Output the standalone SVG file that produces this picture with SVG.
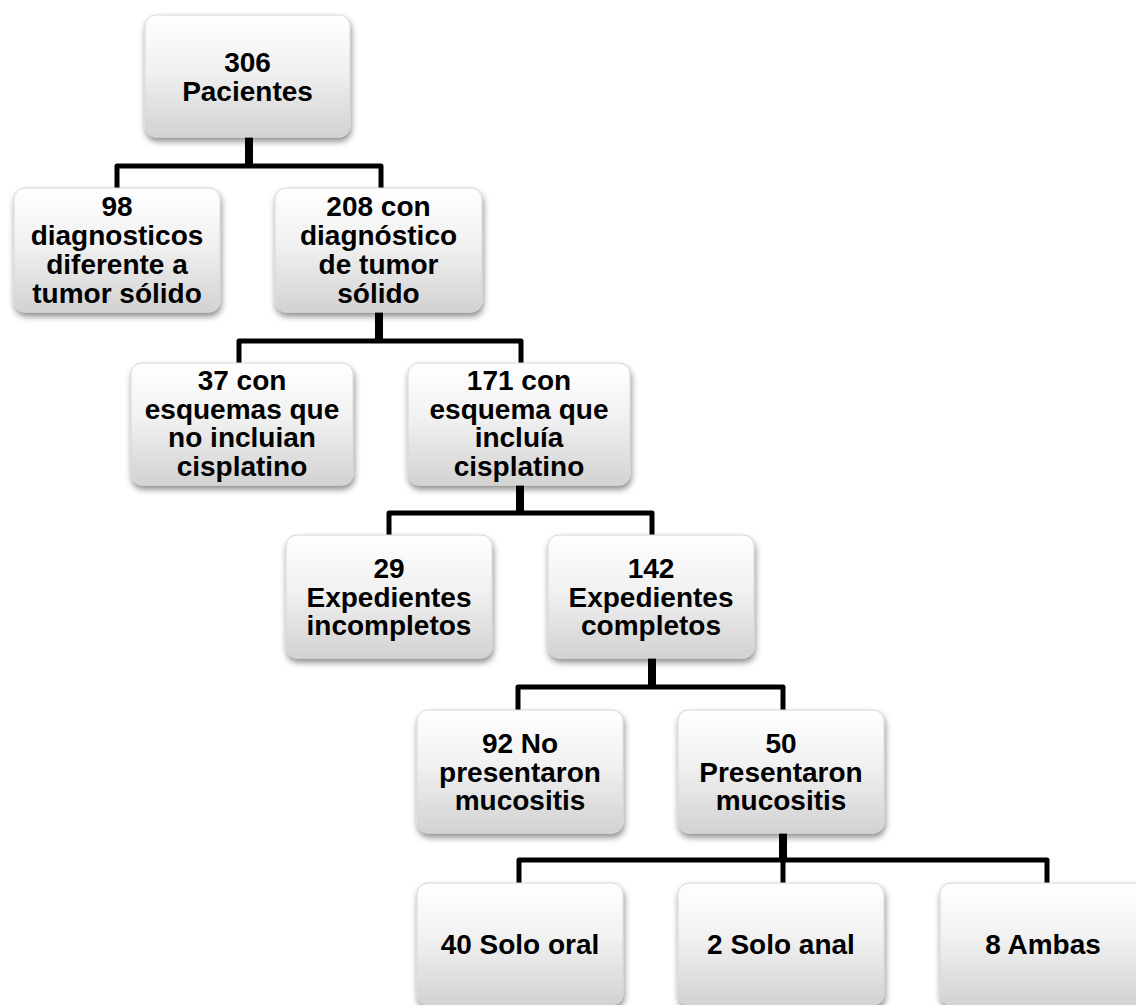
<svg xmlns="http://www.w3.org/2000/svg" width="1136" height="1005" viewBox="0 0 1136 1005">
  <defs>
    <linearGradient id="boxGrad" x1="0" y1="0" x2="0" y2="1">
      <stop offset="0" stop-color="#ffffff"/>
      <stop offset="0.45" stop-color="#f1f1f1"/>
      <stop offset="1" stop-color="#d2d2d2"/>
    </linearGradient>
    <filter id="shadow" x="-10%" y="-10%" width="125%" height="135%">
      <feDropShadow dx="1" dy="4" stdDeviation="3" flood-color="#000000" flood-opacity="0.45"/>
    </filter>
  </defs>
  <style>
    .box { fill: url(#boxGrad); stroke: #d6d6d6; stroke-width: 1; filter: url(#shadow); }
    .lbl { font-family: "Liberation Sans", Arial, sans-serif; font-weight: bold; font-size: 28px; fill: #000000; text-anchor: middle; }
    .stem { fill: none; stroke: #000000; stroke-width: 8; }
    .branch { fill: none; stroke: #000000; stroke-width: 5; stroke-linejoin: round; }
  </style>
  <rect width="1136" height="1005" fill="#ffffff"/>

  <g id="connectors">
    <line class="stem" x1="249" y1="136" x2="249" y2="166"/>
    <path class="branch" d="M117,188 V166 H381 V188"/>

    <line class="stem" x1="379" y1="311" x2="379" y2="341"/>
    <path class="branch" d="M239,363 V341 H521 V363"/>

    <line class="stem" x1="520" y1="484" x2="520" y2="513"/>
    <path class="branch" d="M389,535 V513 H652 V535"/>

    <line class="stem" x1="652" y1="657" x2="652" y2="687"/>
    <path class="branch" d="M518,710 V687 H783 V710"/>

    <line class="stem" x1="783" y1="832" x2="783" y2="860"/>
    <path class="branch" d="M519,883 V860 H1047 V883"/>
    <line class="branch" x1="783" y1="860" x2="783" y2="883"/>
  </g>

  <g id="n306">
    <rect class="box" x="145" y="15" width="205" height="122" rx="11"/>
    <text class="lbl" x="247.5" y="72">306</text>
    <text class="lbl" x="247.5" y="100.5">Pacientes</text>
  </g>

  <g id="n98">
    <rect class="box" x="14" y="188" width="206" height="124" rx="11"/>
    <text class="lbl" x="117" y="216">98</text>
    <text class="lbl" x="117" y="245">diagnosticos</text>
    <text class="lbl" x="117" y="274">diferente a</text>
    <text class="lbl" x="117" y="302.5">tumor sólido</text>
  </g>

  <g id="n208">
    <rect class="box" x="275" y="188" width="207" height="124" rx="11"/>
    <text class="lbl" x="378.5" y="216">208 con</text>
    <text class="lbl" x="378.5" y="245">diagnóstico</text>
    <text class="lbl" x="378.5" y="274">de tumor</text>
    <text class="lbl" x="378.5" y="302.5">sólido</text>
  </g>

  <g id="n37">
    <rect class="box" x="131" y="363" width="222" height="122" rx="11"/>
    <text class="lbl" x="242" y="390">37 con</text>
    <text class="lbl" x="242" y="418.5">esquemas que</text>
    <text class="lbl" x="242" y="447">no incluian</text>
    <text class="lbl" x="242" y="475.5">cisplatino</text>
  </g>

  <g id="n171">
    <rect class="box" x="408" y="363" width="222" height="122" rx="11"/>
    <text class="lbl" x="519" y="390">171 con</text>
    <text class="lbl" x="519" y="418.5">esquema que</text>
    <text class="lbl" x="519" y="447">incluía</text>
    <text class="lbl" x="519" y="475.5">cisplatino</text>
  </g>

  <g id="n29">
    <rect class="box" x="286" y="535" width="206" height="123" rx="11"/>
    <text class="lbl" x="389" y="578">29</text>
    <text class="lbl" x="389" y="606.5">Expedientes</text>
    <text class="lbl" x="389" y="635">incompletos</text>
  </g>

  <g id="n142">
    <rect class="box" x="548" y="535" width="206" height="123" rx="11"/>
    <text class="lbl" x="651" y="578">142</text>
    <text class="lbl" x="651" y="606.5">Expedientes</text>
    <text class="lbl" x="651" y="635">completos</text>
  </g>

  <g id="n92">
    <rect class="box" x="417" y="710" width="206" height="123" rx="11"/>
    <text class="lbl" x="520" y="753">92 No</text>
    <text class="lbl" x="520" y="781.5">presentaron</text>
    <text class="lbl" x="520" y="810">mucositis</text>
  </g>

  <g id="n50">
    <rect class="box" x="678" y="710" width="206" height="123" rx="11"/>
    <text class="lbl" x="781" y="753">50</text>
    <text class="lbl" x="781" y="781.5">Presentaron</text>
    <text class="lbl" x="781" y="810">mucositis</text>
  </g>

  <g id="n40">
    <rect class="box" x="417" y="883" width="206" height="122" rx="11"/>
    <text class="lbl" x="520" y="954">40 Solo oral</text>
  </g>

  <g id="n2">
    <rect class="box" x="678" y="883" width="206" height="122" rx="11"/>
    <text class="lbl" x="781" y="954">2 Solo anal</text>
  </g>

  <g id="n8">
    <rect class="box" x="940" y="883" width="206" height="122" rx="11"/>
    <text class="lbl" x="1043" y="954">8 Ambas</text>
  </g>
</svg>
